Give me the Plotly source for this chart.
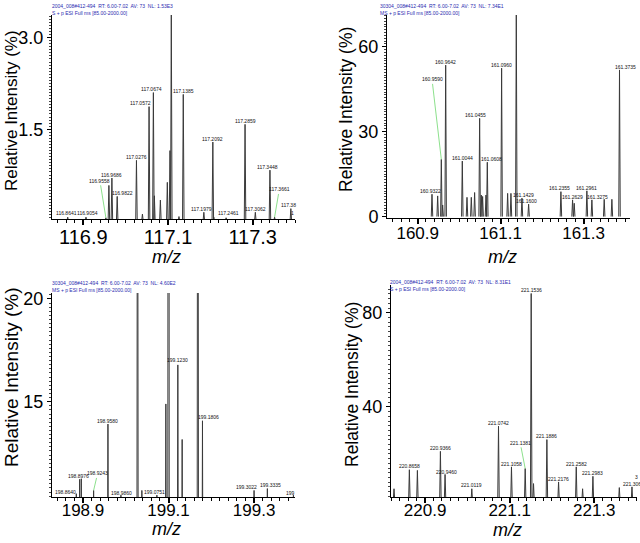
import plotly.graph_objects as go

# ---------------- data ----------------
# Panel A (top-left)
a_mz = [116.8631, 116.9063, 116.9533, 116.9604, 116.9675, 116.9800, 117.0255, 117.0396,
        117.0553, 117.0655, 117.0678, 117.0820, 117.0984, 117.1047, 117.1078, 117.1259,
        117.1361, 117.1847, 117.2059, 117.2082, 117.2373, 117.2820, 117.3063, 117.3408,
        117.3518, 117.3902]
a_int = [0.06, 0.06, 0.05, 0.58, 0.70, 0.40, 0.99, 0.11, 1.87, 2.10, 0.41, 0.34, 0.63,
         1.15, 3.40, 0.07, 2.07, 0.14, 1.29, 0.06, 0.05, 1.58, 0.14, 0.83, 0.06, 0.20]
a_lab = ["116.8641", "116.9054", "116.9558", "", "116.9686", "116.9822", "117.0276", "",
         "117.0572", "117.0674", "", "", "", "", "", "", "117.1385", "117.1979", "117.2092",
         "", "117.2461", "117.2859", "117.3062", "117.3448", "117.3661", "117.38"]

# Panel B (top-right)
b_mz = [160.9345, 160.9482, 160.9570, 160.9602, 160.9675, 161.0076, 161.0189, 161.0293,
        161.0373, 161.0494, 161.0534, 161.0566, 161.0647, 161.0679, 161.1024, 161.1169,
        161.1249, 161.1378, 161.1514, 161.1675, 161.2454, 161.2735, 161.2775, 161.3080,
        161.3201, 161.3498, 161.3683, 161.3867]
b_int = [7.9, 7.3, 20.2, 4.1, 53.5, 19.6, 6.8, 6.8, 8.5, 34.7, 7.6, 7.1, 7.6, 19.2, 52.4,
         8.2, 8.2, 72.0, 6.5, 4.4, 8.8, 5.9, 4.7, 9.1, 5.9, 6.1, 6.1, 51.8]
b_lab = ["160.9322", "", "160.9590", "", "160.9642", "161.0044", "", "", "", "161.0455",
         "", "", "", "161.0608", "161.0960", "", "", "", "161.1429", "161.1600", "161.2355",
         "161.2629", "", "161.2961", "161.3275", "", "", "161.3735"]

# Panel C (bottom-left)
c_mz = [198.8844, 198.8922, 198.8961, 198.9249, 198.9584, 198.9887, 199.0276, 199.0377,
        199.0728, 199.0938, 199.1000, 199.1218, 199.1319, 199.1685, 199.1794, 199.3000,
        199.3311, 199.3920]
c_int = [10.52, 11.22, 11.25, 10.68, 13.91, 10.45, 40.0, 10.68, 10.45, 14.89, 100.0, 16.79,
         13.16, 50.0, 14.07, 10.68, 10.77, 10.45]
c_lab = ["198.8640", "", "198.8976", "198.9243", "198.9580", "198.9860", "", "", "199.0751",
         "", "", "199.1230", "", "", "199.1806", "199.3022", "199.3335", "199"]

# Panel D (bottom-right)
d_mz = [220.8266, 220.8629, 220.8819, 220.9363, 220.9473, 221.0105, 221.0736, 221.1043,
        221.1367, 221.1509, 221.1564, 221.1880, 221.2156, 221.2574, 221.2724, 221.2968,
        221.3592, 221.3891]
d_int = [5.2, 13.3, 13.0, 21.1, 11.3, 5.2, 31.8, 14.5, 13.8, 88.2, 7.4, 26.1, 8.1, 14.5,
         5.2, 10.5, 5.7, 6.0]
d_lab = ["", "220.8658", "", "220.9366", "220.9460", "221.0119", "221.0742", "221.1058",
         "221.1381", "221.1536", "", "221.1886", "221.2176", "221.2582", "", "221.2983",
         "", "221.306"]

headers = [
    "2004_008#412-494  RT: 6.00-7.02  AV: 73  NL: 1.53E3<br>S + p ESI Full ms [85.00-2000.00]",
    "30304_008#412-494  RT: 6.00-7.02  AV: 73  NL: 7.34E1<br>MS + p ESI Full ms [85.00-2000.00]",
    "30304_008#412-494  RT: 6.00-7.02  AV: 73  NL: 4.60E2<br>MS + p ESI Full ms [85.00-2000.00]",
    "2004_008#412-494  RT: 6.00-7.02  AV: 73  NL: 8.31E1<br>S + p ESI Full ms [85.00-2000.00]",
]

# ---------------- style / layout ----------------
W, H = 640, 543
FONT = "Liberation Sans, Arial, sans-serif"
PEAK_HW = 0.0018

# label offsets (px): index -> (dx, dy, leader)
a_off = {0: (-1, 4, 0), 1: (2, 4, 0), 2: (-6, 37, 1), 5: (5, 3, 0), 8: (-8.5, 3.3, 0),
         9: (-2, 3.3, 0), 17: (-2, 3.3, 0), 20: (2.7, 4.3, 0), 23: (-2.3, 3, 0),
         24: (4.7, 27.7, 1), 25: (-2.7, 3.3, 0)}
b_off = {0: (-1.7, 3.3, 0), 2: (-9.3, 80, 1), 9: (-4.3, 3.3, 0), 13: (3.7, 3, 0),
         18: (1.7, 2.7, 0), 19: (-2.3, 2.7, 0), 20: (-1.3, 3.3, 0), 24: (6, 3.3, 0),
         27: (5.7, 3.3, 0)}
c_off = {0: (-11, 1.5, 0), 2: (-3, 2.7, 0), 3: (4, 17, 1), 5: (1, 2.5, 0),
         8: (-2.3, 3.3, 0), 11: (0, 5, 0), 14: (6, 4, 1), 15: (-7.3, 3.3, 1),
         16: (2.7, 3.3, 0), 17: (-3, 2, 0)}
d_off = {4: (1.7, 2.5, 0), 8: (-5, 25.7, 1), 17: (0, 2.5, 0)}

panels = [
    dict(mz=a_mz, inten=a_int, lab=a_lab, off=a_off, xr=[116.826, 117.400], yr=[0.03, 3.37],
         x0=116.9, ydt=1.5, yminor=0.05, yfmt=".1f", xso=-5,
         px=(52, 295), py=(15, 219), xfs=20, yfs=18, tfs=17,
         ytitle=(11, 111), xtitle=(166, 257), head=(50, 1)),
    dict(mz=b_mz, inten=b_int, lab=b_lab, off=b_off, xr=[160.826, 161.412], yr=[-0.5, 71.2],
         x0=160.9, ydt=30, yminor=1, yfmt="d", xso=-5,
         px=(387, 630), py=(15, 218), xfs=17, yfs=18, tfs=17.5,
         ytitle=(346, 110), xtitle=(502, 257), head=(378, 1)),
    dict(mz=c_mz, inten=c_int, lab=c_lab, off=c_off, xr=[198.8276, 199.3957], yr=[10.36, 20.29],
         x0=198.9, ydt=5, yminor=0.2, yfmt="d", xso=-7,
         px=(52, 295), py=(293, 497), xfs=17, yfs=18, tfs=19,
         ytitle=(11, 377), xtitle=(166, 529), head=(50, 278)),
    dict(mz=d_mz, inten=d_int, lab=d_lab, off=d_off, xr=[220.8195, 221.401], yr=[1.7, 91.8],
         x0=220.9, ydt=40, yminor=2, yfmt="d", xso=-7,
         px=(391, 637), py=(285, 497), xfs=17, yfs=18, tfs=17.5,
         ytitle=(352, 385), xtitle=(507, 530), head=(388, 277)),
]

fig = go.Figure()
annotations = []
layout_axes = {}

for i, p in enumerate(panels, start=1):
    xs, ys = [], []
    for m, h in zip(p["mz"], p["inten"]):
        xs += [m - PEAK_HW, m, m + PEAK_HW, None]
        ys += [0, h, 0, None]
    xa = "x" if i == 1 else f"x{i}"
    ya = "y" if i == 1 else f"y{i}"
    fig.add_trace(go.Scatter(x=xs, y=ys, mode="lines", xaxis=xa, yaxis=ya,
                             line=dict(color="#3a3a3a", width=1), hoverinfo="skip",
                             showlegend=False))
    xkey = "xaxis" if i == 1 else f"xaxis{i}"
    ykey = "yaxis" if i == 1 else f"yaxis{i}"
    layout_axes[xkey] = dict(
        domain=[p["px"][0] / W, p["px"][1] / W], anchor=ya, range=p["xr"],
        tickmode="linear", tick0=p["x0"], dtick=0.2, ticks="outside", ticklen=5,
        tickcolor="black", tickwidth=1.5, showline=True, linecolor="black", linewidth=1,
        showgrid=False, zeroline=False, tickformat=".1f", automargin=False,
        ticklabelstandoff=p["xso"],
        tickfont=dict(family=FONT, size=p["xfs"], color="black"),
        minor=dict(dtick=0.02, tick0=p["x0"], ticks="outside", ticklen=3,
                   tickcolor="black", tickwidth=1, showgrid=False),
    )
    layout_axes[ykey] = dict(
        domain=[(H - p["py"][1]) / H, (H - p["py"][0]) / H], anchor=xa, range=p["yr"],
        tickmode="linear", tick0=0, dtick=p["ydt"], ticks="outside", ticklen=4,
        tickcolor="black", showline=True, linecolor="black", linewidth=1,
        showgrid=False, zeroline=False, tickformat=p["yfmt"], automargin=False,
        tickfont=dict(family=FONT, size=p["yfs"], color="black"),
        minor=dict(dtick=p["yminor"], ticks="outside", ticklen=2.5,
                   tickcolor="#444", tickwidth=1, showgrid=False),
    )
    # peak labels
    for k, (m, h, t) in enumerate(zip(p["mz"], p["inten"], p["lab"])):
        if not t:
            continue
        dx, dy, lead = p["off"].get(k, (0, 3.3, 0))
        if lead:
            annotations.append(dict(
                x=m, y=h, xref=xa, yref=ya, text=t, showarrow=True, ax=dx, ay=-dy,
                arrowhead=0, arrowwidth=0.9, arrowcolor="#7fdc7f", standoff=0,
                font=dict(family=FONT, size=5, color="#111")))
        else:
            annotations.append(dict(
                x=m, y=h, xref=xa, yref=ya, text=t, showarrow=False,
                xshift=dx, yshift=dy, yanchor="middle", xanchor="center",
                font=dict(family=FONT, size=5, color="#111")))
    # axis titles
    annotations.append(dict(
        x=p["ytitle"][0] / W, y=1 - p["ytitle"][1] / H, xref="paper", yref="paper",
        text="Relative Intensity (%)", textangle=-90, showarrow=False,
        xanchor="center", yanchor="middle",
        font=dict(family=FONT, size=p["tfs"], color="black")))
    annotations.append(dict(
        x=p["xtitle"][0] / W, y=1 - p["xtitle"][1] / H, xref="paper", yref="paper",
        text="<i>m/z</i>", showarrow=False, xanchor="center", yanchor="middle",
        font=dict(family=FONT, size=18, color="black")))
    # header
    annotations.append(dict(
        x=p["head"][0] / W, y=1 - p["head"][1] / H, xref="paper", yref="paper",
        text=headers[i - 1], showarrow=False, xanchor="left", yanchor="top", align="left",
        font=dict(family=FONT, size=5, color="#2b2bb0")))

# small trailing fragments of cut-off labels
annotations.append(dict(x=a_mz[25], y=a_int[25], xref="x", yref="y", text="1",
                        showarrow=False, xshift=1.5, yshift=-4,
                        font=dict(family=FONT, size=5, color="#111")))
annotations.append(dict(x=d_mz[17], y=d_int[17], xref="x4", yref="y4", text="3",
                        showarrow=False, xshift=4.3, yshift=10,
                        font=dict(family=FONT, size=5, color="#111")))

fig.update_layout(
    width=W, height=H, margin=dict(l=0, r=0, t=0, b=0),
    paper_bgcolor="white", plot_bgcolor="white",
    annotations=annotations, **layout_axes,
)

fig.write_html("out.html", config={"displayModeBar": False},
               post_script="document.body.style.margin='0';document.body.style.padding='0';")
